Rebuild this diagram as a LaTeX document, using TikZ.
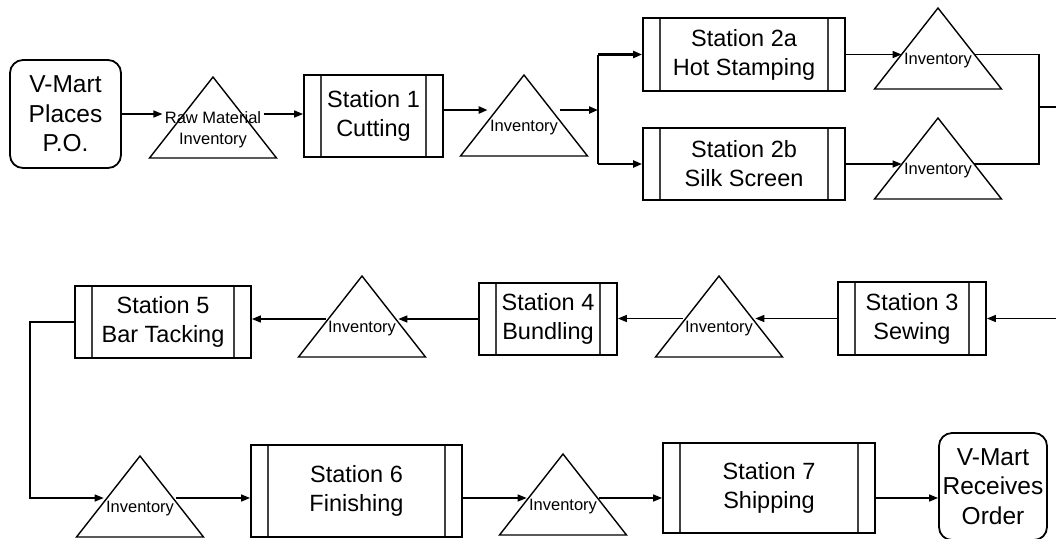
\documentclass[tikz,border=0pt]{standalone}
\usepackage{fontspec}
\setmainfont{Liberation Sans}
\usetikzlibrary{arrows.meta,calc}

\begin{document}
\begin{tikzpicture}[
  x=0.5pt, y=-0.5pt,
  terminal/.style={
    rectangle, rounded corners=6.5pt, draw,
    line width=0.9pt, inner sep=0pt, align=center,
    font=\fontsize{12.25}{14.75}\selectfont
  },
  station/.style={
    rectangle, draw, line width=0.9pt, inner sep=0pt, align=center,
    font=\fontsize{11.75}{14.5}\selectfont,
    path picture={
      \draw[line width=0.55pt, black!75]
        ([xshift=8.5pt]path picture bounding box.north west) -- ([xshift=8.5pt]path picture bounding box.south west)
        ([xshift=-8.5pt]path picture bounding box.north east) -- ([xshift=-8.5pt]path picture bounding box.south east);
    }
  },
  stock/.style={draw, line width=0.7pt},
  stocklbl/.style={inner sep=1pt, align=center, font=\fontsize{8.25}{10.5}\selectfont},
  link/.style={line width=0.7pt},
  arr/.style={link, -{Triangle[length=4.5pt,width=3.5pt]}},
  arrbold/.style={arr, line width=1.1pt}
]
\useasboundingbox (0,0) rectangle (1056,538);

% start and end of the order
\node[terminal, minimum width=55.5pt, minimum height=54pt] (vmart) at (65.5,114) {V-Mart\\Places\\P.O.};
\node[terminal, minimum width=54pt, minimum height=53.5pt] (vmartend) at (993,486.5) {V-Mart\\Receives\\Order};

% work stations
\node[station, minimum width=69.5pt, minimum height=41pt] (st1) at (373.5,116) {Station 1\\Cutting};
\node[station, minimum width=101pt, minimum height=36.5pt] (st2a) at (744,54.5) {Station 2a\\Hot Stamping};
\node[station, minimum width=101pt, minimum height=36pt] (st2b) at (744,164) {Station 2b\\Silk Screen};
\node[station, minimum width=74pt, minimum height=36.5pt] (st3) at (912,318.5) {Station 3\\Sewing};
\node[station, minimum width=69pt, minimum height=36pt] (st4) at (548,319) {Station 4\\Bundling};
\node[station, minimum width=88pt, minimum height=36pt] (st5) at (163,322) {Station 5\\Bar Tacking};
\node[station, minimum width=105.5pt, minimum height=46pt] (st6) at (356.5,491) {Station 6\\Finishing};
\node[station, minimum width=106pt, minimum height=45pt] (st7) at (769,488) {Station 7\\Shipping};

% inventory buffers (apex x / base y)
\draw[stock] (213-63.5,158) -- (213,158-81) -- (213+63.5,158) -- cycle;
\node[stocklbl] (rawlbl) at (213,129.5) {Raw Material\\Inventory};
\foreach \nm/\ax/\by in {inv1/524/156, inv2a/938/89, inv2b/938/199, inv3/719/357,
                         inv4/362/357, inv5/140/537, inv6/563/535} {
  \draw[stock] (\ax-63.5,\by) -- (\ax,\by-81) -- (\ax+63.5,\by) -- cycle;
  \node[stocklbl] (\nm) at (\ax,\by-28) {Inventory};
}

\coordinate (split) at (598,110);
\coordinate (merge) at (1039,107);
\coordinate (wrap) at (1066,0);
\coordinate (turn) at (30,0);
\coordinate (row3) at (0,498);

% top row
\draw[arr] (vmart.east) -- (vmart.east -| rawlbl.west);
\draw[arr] (rawlbl.east |- vmart.east) -- (st1.west |- vmart.east);
\draw[arrbold] ([yshift=3pt]st1.east) -- (inv1.west |- split);
\draw[arrbold] (inv1.east |- split) -- (split);
\draw[link, line width=1.1pt] (split |- st2a.west) -- (split |- st2b.west);
\draw[arrbold] (split |- st2a.west) -- (st2a.west);
\draw[arrbold] (split |- st2b.west) -- (st2b.west);
\draw[arr] (st2a.east) -- (st2a.east -| inv2a.west);
\draw[arr] (st2b.east) -- (st2b.east -| inv2b.west);
\draw[link] (inv2a.east |- st2a.east) -| (merge) |- (inv2b.east |- st2b.east);
\draw[arr] (merge) -- (merge -| wrap) |- (st3.east);

% middle row, right to left
\draw[arr] (st3.west) -- (st3.west -| inv3.east);
\draw[arr] (inv3.west |- st3.west) -- (st4.east |- st3.west);
\draw[arr] (st4.west) -- (st4.west -| inv4.east);
\draw[arr] (inv4.west |- st4.west) -- (st5.east |- st4.west);

% bottom row
\draw[arr] (st5.west) -- (st5.west -| turn) |- (inv5.west |- row3);
\draw[arr] (inv5.east |- row3) -- (st6.west |- row3);
\draw[arr] (st6.east |- row3) -- (inv6.west |- row3);
\draw[arr] (inv6.east |- row3) -- (st7.west |- row3);
\draw[arr] (st7.east |- row3) -- (vmartend.west |- row3);
\end{tikzpicture}
\end{document}
